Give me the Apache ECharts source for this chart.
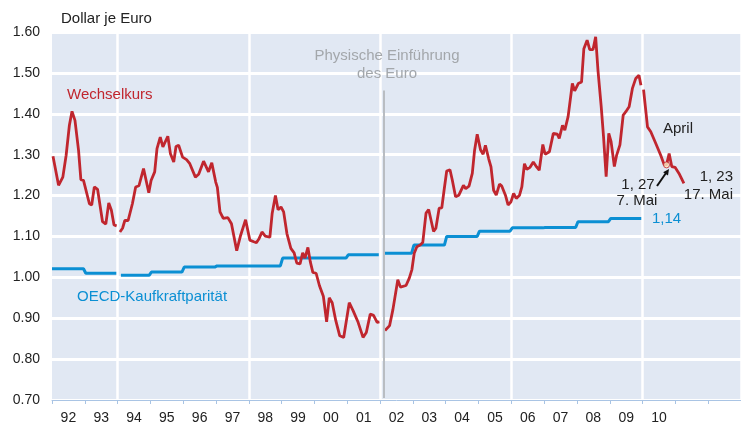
<!DOCTYPE html>
<html>
<head>
<meta charset="utf-8">
<script src="https://cdn.jsdelivr.net/npm/echarts@6/dist/echarts.min.js"></script>
<style>
  html, body { margin: 0; padding: 0; background: #fff; }
  #chart { width: 741px; height: 425px; }
</style>
</head>
<body>
<div id="chart"></div>
<script>
// Jahreslabels der x-Achse (Kategorie = ein Jahr)
var yearLabels = ['92','93','94','95','96','97','98','99','00','01','02','03','04','05','06','07','08','09','10','',''];

// Wechselkurs Dollar je Euro (x = Jahr als Dezimalzahl)
var kurs9293 = [
  [1992.03,1.296],[1992.20,1.225],[1992.33,1.245],[1992.43,1.298],[1992.53,1.372],[1992.61,1.406],
  [1992.70,1.384],[1992.81,1.310],[1992.88,1.239],[1992.96,1.237],[1993.14,1.180],[1993.21,1.177],
  [1993.29,1.221],[1993.39,1.215],[1993.54,1.136],[1993.64,1.130],[1993.73,1.182],[1993.81,1.164],
  [1993.89,1.128],[1993.97,1.126]
];
var kurs9401 = [
  [1994.07,1.111],[1994.15,1.120],[1994.22,1.139],[1994.32,1.139],[1994.45,1.180],[1994.55,1.221],
  [1994.65,1.224],[1994.79,1.266],[1994.95,1.207],[1995.02,1.237],[1995.13,1.258],[1995.20,1.315],
  [1995.30,1.343],[1995.38,1.319],[1995.53,1.345],[1995.61,1.302],[1995.71,1.282],[1995.78,1.320],
  [1995.86,1.323],[1995.98,1.294],[1996.10,1.288],[1996.20,1.278],[1996.37,1.245],[1996.47,1.252],
  [1996.62,1.284],[1996.77,1.258],[1996.87,1.280],[1996.99,1.233],[1997.04,1.220],[1997.12,1.160],
  [1997.22,1.144],[1997.36,1.146],[1997.47,1.131],[1997.63,1.065],[1997.75,1.103],[1997.90,1.141],
  [1998.03,1.091],[1998.15,1.087],[1998.23,1.085],[1998.30,1.093],[1998.40,1.111],[1998.50,1.101],
  [1998.64,1.098],[1998.71,1.156],[1998.81,1.200],[1998.89,1.165],[1998.98,1.172],[1999.06,1.160],
  [1999.16,1.107],[1999.28,1.071],[1999.38,1.060],[1999.46,1.035],[1999.56,1.033],[1999.64,1.060],
  [1999.71,1.047],[1999.80,1.073],[1999.87,1.039],[1999.95,1.012],[2000.05,1.010],[2000.15,0.980],
  [2000.27,0.954],[2000.37,0.891],[2000.45,0.950],[2000.54,0.938],[2000.65,0.894],[2000.77,0.857],
  [2000.89,0.853],[2001.06,0.938],[2001.18,0.918],[2001.33,0.890],[2001.48,0.853],[2001.58,0.865],
  [2001.70,0.910],[2001.80,0.907],[2001.91,0.890],[2001.98,0.891]
];
var kurs0209 = [
  [2002.15,0.870],[2002.29,0.882],[2002.39,0.921],[2002.54,0.994],[2002.62,0.976],[2002.79,0.980],
  [2002.89,0.998],[2002.97,1.019],[2003.04,1.059],[2003.12,1.075],[2003.22,1.079],[2003.30,1.085],
  [2003.40,1.157],[2003.48,1.166],[2003.63,1.112],[2003.70,1.120],[2003.80,1.169],[2003.88,1.170],
  [2003.95,1.213],[2004.03,1.260],[2004.13,1.263],[2004.20,1.238],[2004.30,1.197],[2004.40,1.201],
  [2004.54,1.225],[2004.61,1.217],[2004.71,1.223],[2004.81,1.254],[2004.88,1.311],[2004.96,1.350],
  [2005.06,1.312],[2005.14,1.301],[2005.21,1.323],[2005.31,1.290],[2005.38,1.270],[2005.46,1.213],
  [2005.54,1.201],[2005.64,1.228],[2005.71,1.223],[2005.82,1.201],[2005.90,1.177],[2005.99,1.185],
  [2006.07,1.205],[2006.15,1.193],[2006.25,1.201],[2006.32,1.221],[2006.40,1.278],[2006.47,1.264],
  [2006.57,1.269],[2006.67,1.282],[2006.77,1.270],[2006.85,1.262],[2006.96,1.325],[2007.03,1.301],
  [2007.16,1.307],[2007.28,1.352],[2007.40,1.350],[2007.46,1.340],[2007.56,1.372],[2007.63,1.360],
  [2007.73,1.393],[2007.86,1.474],[2007.93,1.456],[2008.04,1.474],[2008.14,1.478],[2008.21,1.559],
  [2008.31,1.580],[2008.39,1.557],[2008.49,1.557],[2008.57,1.588],[2008.64,1.507],[2008.74,1.417],
  [2008.81,1.344],[2008.89,1.246],[2008.97,1.352],[2009.04,1.332],[2009.14,1.271],[2009.21,1.299],
  [2009.31,1.324],[2009.41,1.397],[2009.49,1.405],[2009.59,1.417],[2009.69,1.462],[2009.79,1.486],
  [2009.89,1.494],[2009.95,1.470]
];
var kurs10 = [
  [2010.03,1.459],[2010.15,1.368],[2010.25,1.356],[2010.40,1.328],[2010.55,1.299],[2010.66,1.275],
  [2010.73,1.275],[2010.81,1.303],[2010.89,1.271],[2010.99,1.269],[2011.11,1.254],[2011.26,1.230]
];
// Markierter Wert am 7. Mai
var kursMai7 = [2010.73, 1.275];

// OECD-Kaufkraftparität je Jahr
var oecdYears  = [1992,1993,1994,1995,1996,1997,1998,1999,2000,2001,2002,2003,2004,2005,2006,2007,2008,2009];
var oecdValues = [1.021,1.010,1.005,1.013,1.025,1.028,1.028,1.047,1.047,1.055,1.059,1.079,1.100,1.113,1.121,1.122,1.136,1.144];
var oecdBreaks = [1994, 2002];

var red = '#c0262e', blue = '#0b8fd3';

// Kurs-Segmente mit Luecken verbinden
var kursData = [];
[kurs9293, kurs9401, kurs0209, kurs10].forEach(function (seg, i) {
  if (i > 0) kursData.push([seg[0][0] - 0.05, '-']);
  kursData = kursData.concat(seg);
});

// Treppe fuer OECD-Werte
var oecdData = [];
oecdYears.forEach(function (y, i) {
  if (oecdBreaks.indexOf(y) >= 0) {
    oecdData.push([y, '-']);
    oecdData.push([y + 0.1, oecdValues[i]]);
  } else {
    oecdData.push([i === 0 ? y : y + 0.03, oecdValues[i]]);
  }
  oecdData.push([y + 0.96, oecdValues[i]]);
});

var font = "'Liberation Sans', Arial, Helvetica, sans-serif";
function txt(x, y, s, color, align) {
  return {
    type: 'text', x: x, y: y, z: 100,
    style: { text: s, fill: color || '#222', font: '15px ' + font, align: align || 'left', verticalAlign: 'middle' }
  };
}

var chart = echarts.init(document.getElementById('chart'));
chart.setOption({
  animation: false,
  textStyle: { fontFamily: font },
  grid: { left: 52, right: -6, top: 32, bottom: 24, show: true, backgroundColor: '#e1e8f3', borderWidth: 0 },
  xAxis: [{
    type: 'category',
    data: yearLabels,
    boundaryGap: true,
    axisLine: { lineStyle: { color: '#a9c4e4', width: 1 } },
    axisTick: { show: true, interval: 0, length: 4, lineStyle: { color: '#a9c4e4' } },
    axisLabel: { interval: 0, color: '#222', fontSize: 14, margin: 11 },
    splitLine: {
      show: true,
      interval: function (index) { return index % 4 === 2; },
      lineStyle: { color: '#fff', width: 2.5 }
    }
  }, {
    type: 'value', min: 1992, max: 2013, show: false
  }],
  yAxis: {
    type: 'value', min: 0.7, max: 1.6, interval: 0.1,
    axisLine: { show: false }, axisTick: { show: false },
    axisLabel: { color: '#222', fontSize: 14, margin: 12, formatter: function (v) { return v.toFixed(2); } },
    splitLine: { lineStyle: { color: '#fff', width: 3 } }
  },
  series: [{
    name: 'OECD-Kaufkraftparität', type: 'line', xAxisIndex: 1,
    data: oecdData, showSymbol: false, symbol: 'none', connectNulls: false,
    lineStyle: { color: blue, width: 3 }, z: 3
  }, {
    name: 'Wechselkurs', type: 'line', xAxisIndex: 1,
    data: kursData, showSymbol: false, symbol: 'none', connectNulls: false,
    lineStyle: { color: red, width: 2.8 }, z: 4,
    markLine: {
      silent: true, symbol: 'none', label: { show: false },
      lineStyle: { color: '#b9bdc2', width: 2, type: 'solid' },
      data: [[{ coord: [2002.12, 1.457] }, { coord: [2002.12, 0.705] }]]
    }
  }, {
    type: 'scatter', xAxisIndex: 1, data: [kursMai7], symbolSize: 6, z: 5,
    itemStyle: { color: '#fbeec4', borderColor: '#c0262e', borderWidth: 1 }
  }],
  graphic: [
    txt(61, 19, 'Dollar je Euro', '#222'),
    txt(67, 95, 'Wechselkurs', red),
    txt(77, 297, 'OECD-Kaufkraftparität', blue),
    txt(387, 56, 'Physische Einführung', '#a3a7ab', 'center'),
    txt(387, 74, 'des Euro', '#a3a7ab', 'center'),
    txt(663, 129, 'April', '#222'),
    txt(638, 185, '1, 27', '#222', 'center'),
    txt(637, 201, '7. Mai', '#222', 'center'),
    txt(733, 177, '1, 23', '#222', 'right'),
    txt(733, 195, '17. Mai', '#222', 'right'),
    txt(652, 219, '1,14', blue),
    { type: 'line', z: 100, shape: { x1: 657, y1: 186, x2: 666, y2: 173 }, style: { stroke: '#111', lineWidth: 2 } },
    { type: 'polygon', z: 100, shape: { points: [[669, 169], [668, 175.6], [663.1, 172.2]] }, style: { fill: '#111' } }
  ]
});
</script>
</body>
</html>
